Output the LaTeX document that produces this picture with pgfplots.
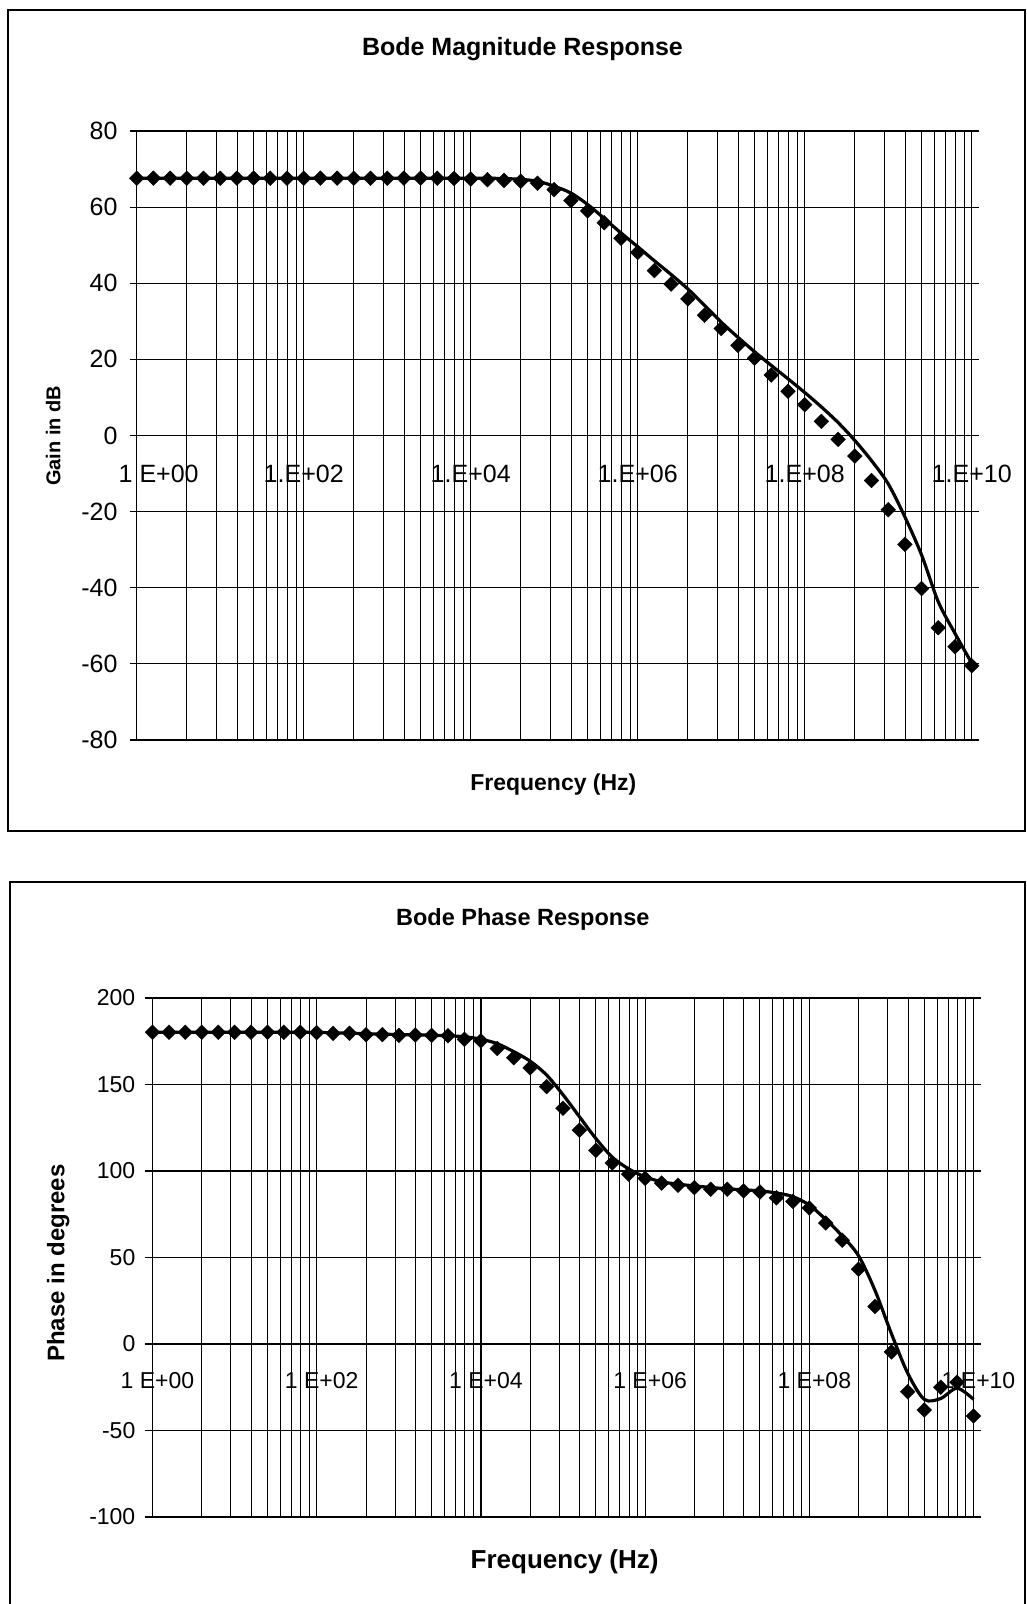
\documentclass[border=0pt]{standalone}
\usepackage{fontspec}
\setmainfont{Liberation Sans}
\usepackage{pgfplots}
\usepackage{pgfplotstable}
\pgfplotsset{compat=1.18}

% u = log10(frequency); meas = diamonds, fit = solid line
\pgfplotstableread{
u meas fit
0.0 67.6 67.6
0.2 67.6 67.6
0.4 67.6 67.6
0.6 67.6 67.6
0.8 67.6 67.6
1.0 67.6 67.6
1.2 67.6 67.6
1.4 67.6 67.6
1.6 67.6 67.6
1.8 67.6 67.6
2.0 67.6 67.6
2.2 67.6 67.6
2.4 67.6 67.6
2.6 67.6 67.6
2.8 67.6 67.6
3.0 67.6 67.6
3.2 67.6 67.6
3.4 67.6 67.6
3.6 67.6 67.6
3.8 67.5 67.6
4.0 67.4 67.6
4.2 67.2 67.6
4.4 67.0 67.5
4.6 66.8 67.3
4.8 66.3 66.8
5.0 64.6 65.5
5.2 61.7 63.7
5.4 59.0 60.7
5.6 55.9 57.0
5.8 51.8 53.2
6.0 48.1 49.6
6.2 43.3 45.9
6.4 39.8 42.3
6.6 35.9 38.5
6.8 31.6 34.2
7.0 28.1 29.8
7.2 23.7 25.8
7.4 20.3 22.0
7.6 15.9 18.4
7.8 11.6 14.9
8.0 8.1 11.3
8.2 3.7 7.5
8.4 -1.0 3.4
8.6 -5.4 -1.3
8.8 -11.8 -6.6
9.0 -19.5 -12.7
9.2 -28.6 -21.4
9.4 -40.2 -31.4
9.6 -50.5 -43.7
9.8 -55.5 -52.0
10.0 -60.5 -59.8
}\gain

\pgfplotstableread{
u meas fit
0.0 180.2 180.2
0.2 180.2 180.2
0.4 180.2 180.2
0.6 180.2 180.2
0.8 180.2 180.2
1.0 180.2 180.2
1.2 180.2 180.2
1.4 180.2 180.2
1.6 180.2 180.2
1.8 180.2 180.2
2.0 180.0 180.1
2.2 179.6 179.9
2.4 179.6 179.7
2.6 178.8 179.4
2.8 178.8 179.1
3.0 178.4 178.9
3.2 178.6 178.7
3.4 178.4 178.5
3.6 178.2 178.2
3.8 176.1 177.6
4.0 175.2 176.2
4.2 170.8 173.6
4.4 165.5 169.0
4.6 159.6 163.5
4.8 148.8 155.5
5.0 136.3 144.1
5.2 123.6 131.4
5.4 111.9 118.8
5.6 104.7 108.0
5.8 98.2 101.2
6.0 95.7 96.6
6.2 93.0 93.8
6.4 91.8 92.4
6.6 90.4 91.4
6.8 89.5 90.5
7.0 89.5 89.7
7.2 88.5 89.1
7.4 87.9 88.5
7.6 84.5 87.3
7.8 82.5 85.2
8.0 78.6 80.3
8.2 70.0 72.0
8.4 60.0 62.5
8.6 43.2 51.0
8.8 21.7 31.0
9.0 -4.6 6.0
9.2 -27.6 -17.0
9.4 -38.1 -32.0
9.6 -25.0 -31.5
9.8 -22.1 -25.5
10.0 -41.6 -32.0
}\phase

\pgfplotsset{
  bode/.style={
    scale only axis,
    clip=false,
    xmin=0, xmax=10,
    xtick={0,2,4,6,8,10},
    minor xtick={0.602,0.954,1.204,1.398,1.556,1.690,1.806,1.908,
      2.602,2.954,3.204,3.398,3.556,3.690,3.806,3.908,
      4.602,4.954,5.204,5.398,5.556,5.690,5.806,5.908,
      6.602,6.954,7.204,7.398,7.556,7.690,7.806,7.908,
      8.602,8.954,9.204,9.398,9.556,9.690,9.806,9.908},
    xmajorgrids, xminorgrids, ymajorgrids,
    major grid style={black, line width=1.2pt},
    minor grid style={black, line width=1.0pt},
    axis line style={black, line width=1.4pt},
    tick align=outside, major tick length=7pt, minor tick length=0pt,
    xtick style={draw=none},
    ytick style={black, line width=1.2pt},
    xticklabel style={anchor=center},
    yticklabel style={anchor=east, inner sep=0pt},
    title style={anchor=center},
    xlabel style={anchor=center},
    ylabel style={anchor=center},
  },
  meas/.style={only marks, mark=square*, mark size=5.2pt,
    mark options={rotate=45, fill=black, draw=black}},
  fit/.style={no marks, black, line width=3.2pt, smooth},
}

\begin{document}
\begin{tikzpicture}
\useasboundingbox (0,0) rectangle (1027pt,-1604pt);
\draw[line width=1.8pt] (8pt,-10pt) rectangle (1025pt,-831pt);
\draw[line width=1.8pt] (10pt,-1604pt) -- (10pt,-882pt) -- (1025pt,-882pt) -- (1025pt,-1604pt);

\begin{axis}[bode,
  at={(136.7pt,-740pt)}, anchor=south west,
  width=835pt, height=609pt,
  ymin=-80, ymax=80,
  ytick={-80,-60,-40,-20,0,20,40,60,80},
  yticklabels={-80,-60,-40,-20,0,20,40,60,80},
  xticklabels={\hspace*{44pt}1 E+00,1.E+02,1.E+04,1.E+06,1.E+08,1.E+10},
  tick label style={font=\fontsize{25}{25}\selectfont},
  xticklabel style={yshift=273.5pt},
  yticklabel style={xshift=-12pt},
  title={Bode Magnitude Response},
  title style={at={(axis description cs:0.462,1.125)}, font=\bfseries\fontsize{25}{25}\selectfont},
  xlabel={Frequency (Hz)},
  xlabel style={at={(axis description cs:0.499,-0.073)}, font=\bfseries\fontsize{23}{23}\selectfont},
  ylabel={Gain in dB},
  ylabel style={at={(axis description cs:-0.100,0.4995)}, font=\bfseries\fontsize{20}{20}\selectfont},
]
\addplot[meas] table[x=u, y=meas] {\gain};
\addplot[fit] table[x=u, y=fit] {\gain};
\end{axis}

\begin{axis}[bode,
  at={(152.5pt,-1517pt)}, anchor=south west,
  width=821pt, height=519pt,
  ymin=-100, ymax=200,
  ytick={-100,-50,0,50,100,150,200},
  yticklabels={-100,-50,0,50,100,150,200},
  xticklabels={1 E+00,1 E+02,1 E+04,1 E+06,1 E+08,1.E+10},
  tick label style={font=\fontsize{23}{23}\selectfont},
  xticklabel style={yshift=143pt, xshift=5pt},
  yticklabel style={xshift=-10pt},
  title={Bode Phase Response},
  title style={at={(axis description cs:0.451,1.139)}, font=\bfseries\fontsize{23.5}{23.5}\selectfont},
  xlabel={Frequency (Hz)},
  xlabel style={at={(axis description cs:0.502,-0.0867)}, font=\bfseries\fontsize{26}{26}\selectfont},
  ylabel={Phase in degrees},
  ylabel style={at={(axis description cs:-0.1147,0.489)}, font=\bfseries\fontsize{24}{24}\selectfont},
]
\addplot[meas] table[x=u, y=meas] {\phase};
\addplot[fit] table[x=u, y=fit] {\phase};
\end{axis}
\end{tikzpicture}
\end{document}
